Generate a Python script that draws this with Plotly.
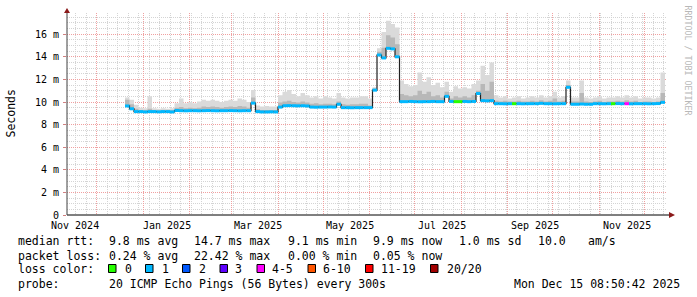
import pandas as pd
import plotly.graph_objects as go

# ---------------- data ----------------
start_date = "2024-12-20"
n_points = 121            # one value every 3 days
step = "3D"

median_ms = [
    9.65, 9.40,
    9.15, 9.15, 9.12, 9.15, 9.15, 9.13, 9.15, 9.15, 9.12,
    9.25,
    9.23, 9.22, 9.23, 9.23, 9.22, 9.23, 9.24, 9.23, 9.22, 9.23, 9.23, 9.24, 9.23, 9.22, 9.23, 9.23,
    9.90,
    9.15, 9.12, 9.12, 9.13, 9.12,
    9.55,
    9.67, 9.68, 9.67, 9.66, 9.67, 9.65,
    9.55, 9.54, 9.55, 9.55, 9.56, 9.55,
    9.80,
    9.50, 9.50, 9.49, 9.50, 9.50, 9.50, 9.50,
    11.05, 14.16, 13.90, 14.75, 14.70, 14.00,
    10.03, 10.03, 10.05, 10.03, 10.02, 10.03, 10.03, 10.05, 10.03, 10.03,
    10.50,
    10.05, 10.03, 10.03, 10.05, 10.03, 10.05,
    10.75,
    10.12, 10.10, 10.12,
    9.85, 9.85, 9.84, 9.85, 9.85, 9.85, 9.84, 9.85, 9.85, 9.85, 9.88, 9.85, 9.85, 9.84, 9.85, 9.85,
    11.30,
    9.80, 9.80, 9.82, 9.80, 9.80,
    9.85, 9.85, 9.84, 9.85, 9.85, 9.86, 9.85, 9.85, 9.84, 9.85, 9.85, 9.85, 9.84, 9.85, 9.86,
    9.97, 9.97,
]

smoke_max_ms = [
    10.40, 10.20, 9.75, 9.50, 9.45, 10.50, 9.45, 9.40, 9.45, 9.40, 9.45, 9.90,
    10.30, 9.90, 10.00, 9.90, 10.05, 10.20, 10.10, 10.20, 10.10, 10.00, 10.10, 10.20, 10.10, 10.30, 10.20, 10.00,
    11.06, 9.70, 9.60, 9.65, 9.60, 9.60,
    10.60, 10.90, 11.06, 10.70, 10.50, 10.80, 10.60, 10.40, 10.50, 10.30, 10.50, 10.40, 10.30, 10.80, 10.40,
    10.30, 10.40, 10.40, 10.50, 10.50, 10.30,
    11.30, 14.75, 16.20, 17.20, 16.90, 16.60,
    11.90, 11.60, 11.40, 11.50, 12.60, 11.80, 12.20, 11.50, 11.70, 11.30, 11.80, 10.90, 11.40, 11.20, 11.30,
    11.20, 11.60, 11.90, 13.20, 12.40, 13.50,
    10.60, 10.40, 10.50, 10.30, 10.40, 10.50, 10.30, 10.40, 10.50, 10.40, 10.60, 10.40, 10.50, 10.90, 10.40, 10.50,
    11.90, 10.40, 10.40, 11.90, 10.40, 10.30, 10.40, 10.50, 10.30, 10.40, 10.40, 10.50, 10.40, 10.60, 10.40,
    10.50, 10.30, 10.40, 10.40, 10.30, 10.40, 12.60, 10.30,
]

smoke_mid_ms = [
    10.20, 9.80, 9.40, 9.30, 9.28, 9.40, 9.28, 9.25, 9.28, 9.25, 9.28, 9.50,
    9.55, 9.45, 9.50, 9.45, 9.50, 9.60, 9.55, 9.60, 9.55, 9.50, 9.55, 9.60, 9.55, 9.65, 9.60, 9.50,
    10.40, 9.35, 9.30, 9.30, 9.30, 9.30,
    9.95, 10.05, 10.10, 10.00, 9.95, 10.05, 9.95, 9.85, 9.90, 9.80, 9.85, 9.85, 9.80, 10.05, 9.80,
    9.75, 9.80, 9.80, 9.85, 9.85, 9.70,
    11.20, 14.45, 14.80, 15.90, 15.70, 15.10,
    10.70, 10.60, 10.50, 10.60, 11.00, 10.70, 10.90, 10.50, 10.60, 10.40, 10.90, 10.30, 10.50, 10.40, 10.50,
    10.40, 10.60, 11.00, 11.60, 11.00, 11.80,
    10.10, 10.05, 10.10, 10.05, 10.05, 10.10, 10.05, 10.05, 10.10, 10.05, 10.15, 10.05, 10.10, 10.30, 10.05, 10.10,
    11.50, 10.05, 10.05, 10.80, 10.05, 10.00, 10.05, 10.10, 10.00, 10.05, 10.05, 10.10, 10.05, 10.15, 10.05,
    10.10, 10.00, 10.05, 10.05, 10.00, 10.05, 10.80, 10.05,
]

# points whose packet loss class differs from the usual "1"
loss_index = [73, 74, 86, 108, 111]
loss_class = ["0", "0", "0", "0", "4-5"]
default_loss = "1"

loss_labels = ["0", "1", "2", "3", "4-5", "6-10", "11-19", "20/20"]
loss_colors = ["#26ff00", "#00b8ff", "#0059ff", "#5e00ff", "#ff00ff", "#ff5500", "#ff0000", "#a10000"]

x_tick_labels = ["Nov 2024", "Jan 2025", "Mar 2025", "May 2025", "Jul 2025", "Sep 2025", "Nov 2025"]
y_tick_vals = [0, 2, 4, 6, 8, 10, 12, 14, 16]
y_tick_text = ["0", "2 m", "4 m", "6 m", "8 m", "10 m", "12 m", "14 m", "16 m"]

# ---------------- figure ----------------
W, H = 697, 297
L, R, T, B = 67, 30, 13, 82
PW, PH = W - L - R, H - T - B
MONO = "DejaVu Sans Mono"


def px(x):
    return (x - L) / PW


def py(y):
    return (T + PH - y) / PH


dates = pd.date_range(start_date, periods=n_points, freq=step)
loss = [default_loss] * n_points
for i, c in zip(loss_index, loss_class):
    loss[i] = c

fig = go.Figure()

# smoke: light (median -> max), darker (median -> mid)
for top, col in ((smoke_max_ms, "#dadada"), (smoke_mid_ms, "#b8b8b8")):
    fig.add_trace(go.Scatter(x=dates, y=median_ms, mode="lines", line=dict(width=0, shape="hv"),
                             hoverinfo="skip", showlegend=False))
    fig.add_trace(go.Scatter(x=dates, y=top, mode="lines", line=dict(width=0, shape="hv"),
                             fill="tonexty", fillcolor=col, hoverinfo="skip", showlegend=False))

# dark median line
fig.add_trace(go.Scatter(x=dates, y=median_ms, mode="lines",
                         line=dict(width=1.2, color="#202020", shape="hv"),
                         hoverinfo="skip", showlegend=False))

# loss-coloured median band (horizontal pieces only)
for lab, col in zip(loss_labels, loss_colors):
    xs, ys = [], []
    for i in range(n_points - 1):
        if loss[i] == lab:
            xs += [dates[i], dates[i + 1], None]
            ys += [median_ms[i], median_ms[i], None]
    if xs:
        fig.add_trace(go.Scatter(x=xs, y=ys, mode="lines", line=dict(width=3, color=col),
                                 hoverinfo="skip", showlegend=False, connectgaps=False))

month_starts = pd.date_range("2024-12-01", "2025-12-01", freq="MS")

fig.update_layout(
    width=W, height=H,
    margin=dict(l=L, r=R, t=T, b=B, pad=0),
    paper_bgcolor="white", plot_bgcolor="white",
    showlegend=False,
    xaxis=dict(
        range=["2024-11-11 08:00", "2025-12-16 08:00"],
        tickmode="array", tickvals=list(month_starts), ticktext=[""] * len(month_starts),
        showticklabels=False, ticks="",
        showgrid=True, gridcolor="#f0a0a0", griddash="1px,1px", gridwidth=1,
        minor=dict(tickmode="linear", tick0="2024-11-17", dtick=7 * 86400000,
                   showgrid=True, gridcolor="#d4d4d4", griddash="1px,1px", gridwidth=1, ticks=""),
        showline=False, zeroline=False, fixedrange=True,
    ),
    yaxis=dict(
        range=[0, PH / 11.3],
        tickmode="array", tickvals=y_tick_vals, ticktext=y_tick_text,
        tickfont=dict(family=MONO, size=10, color="black"),
        ticks="outside", ticklen=3, tickcolor="#d08080", ticklabelstandoff=2,
        showgrid=True, gridcolor="#f0a0a0", griddash="1px,1px", gridwidth=1,
        minor=dict(tickmode="linear", tick0=0, dtick=0.5,
                   showgrid=True, gridcolor="#d4d4d4", griddash="1px,1px", gridwidth=1, ticks=""),
        showline=False, zeroline=False, fixedrange=True,
    ),
)

shapes = []
# axes with arrows
shapes.append(dict(type="line", xref="paper", yref="paper", x0=px(67), x1=px(671), y0=py(215), y1=py(215),
                   line=dict(color="#000000", width=1)))
shapes.append(dict(type="line", xref="paper", yref="paper", x0=px(67), x1=px(67), y0=py(215), y1=py(11),
                   line=dict(color="#404040", width=1)))
shapes.append(dict(type="path", xref="paper", yref="paper",
                   path=f"M {px(675)},{py(215)} L {px(669)},{py(212)} L {px(669)},{py(218)} Z",
                   fillcolor="#8b1a1a", line=dict(width=0)))
shapes.append(dict(type="path", xref="paper", yref="paper",
                   path=f"M {px(67)},{py(8)} L {px(64)},{py(13)} L {px(70)},{py(13)} Z",
                   fillcolor="#8b1a1a", line=dict(width=0)))

# legend colour boxes
box_left = [108.5, 145.5, 182.5, 220, 257, 308, 365.5, 430.5]
lab_left = [124.4, 160.5, 197.5, 234.2, 271.1, 322.2, 380, 445.8]
for bx, col in zip(box_left, loss_colors):
    shapes.append(dict(type="rect", xref="paper", yref="paper", x0=px(bx), x1=px(bx + 7.5),
                       y0=py(272.5), y1=py(264.5), fillcolor=col, line=dict(color="black", width=1)))
fig.update_layout(shapes=shapes)

ann = []


def text(s, x, y, size=11.5, color="black", anchor="left", angle=0, yanchor="middle"):
    ann.append(dict(text=s, xref="paper", yref="paper", x=px(x), y=py(y), xanchor=anchor,
                    yanchor=yanchor, showarrow=False, textangle=angle, borderpad=0,
                    font=dict(family=MONO, size=size, color=color)))


# x labels
for lab, cx in zip(x_tick_labels, [75, 166.5, 258, 350, 442, 535, 627]):
    text(lab, cx, 225.5, size=10, anchor="center")

text("Seconds", 10.5, 114, angle=-90, anchor="center")
text("RRDTOOL / TOBI OETIKER", 688, 60.5, size=8.3, color="#b8b8b8", angle=90, anchor="center")

row1 = [("median rtt:", 16.5), ("9.8 ms avg", 107.5), ("14.7 ms max", 193.3), ("9.1 ms min", 286.7),
        ("9.9 ms now", 372.4), ("1.0 ms sd", 457.8), ("10.0", 537), ("am/s", 586.7)]
row2 = [("packet loss:", 16.5), ("0.24 % avg", 107.5), ("22.42 % max", 193.3), ("0.00 % min", 286.7),
        ("0.05 % now", 372.4)]
row4 = [("probe:", 16.5), ("20 ICMP Echo Pings (56 Bytes) every 300s", 107.5),
        ("Mon Dec 15 08:50:42 2025", 513.3)]
for s, x in row1:
    text(s, x, 241.5)
for s, x in row2:
    text(s, x, 255.5)
text("loss color:", 16.5, 269)
for s, x in zip(loss_labels, lab_left):
    text(s, x, 269)
for s, x in row4:
    text(s, x, 283.5)

fig.update_layout(annotations=ann)
fig.write_html("out.html")
